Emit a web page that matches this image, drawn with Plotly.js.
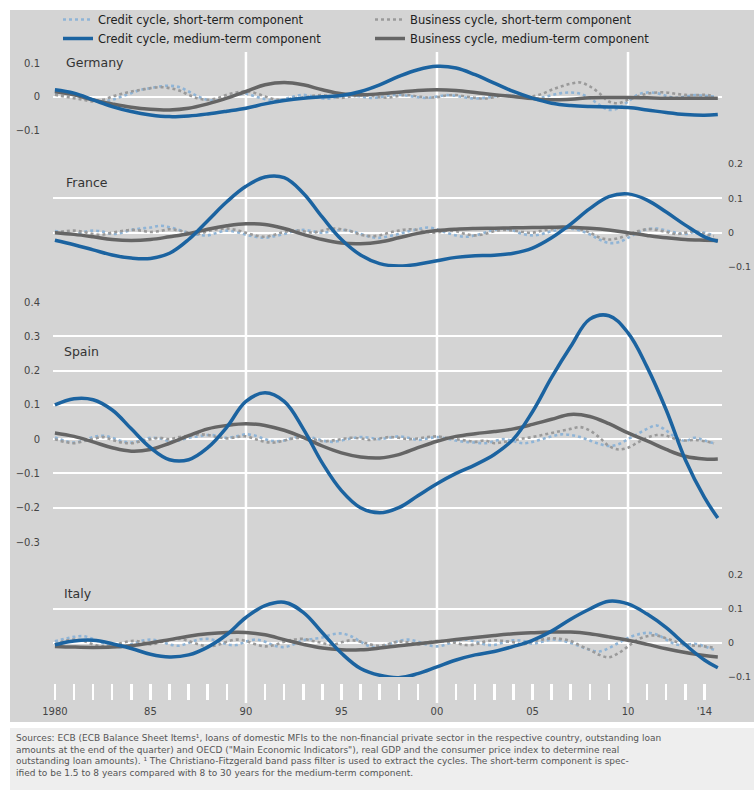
<!DOCTYPE html>
<html>
<head>
<meta charset="utf-8">
<script src="https://cdn.plot.ly/plotly-3.0.1.min.js"></script>
<style>html,body{margin:0;padding:0;background:#fff}#chart{width:754px;height:790px}</style>
</head>
<body>
<div id="chart"></div>
<script>
// ---------------- DATA ----------------
const countries = ["Germany", "France", "Spain", "Italy"];
const seriesNames = ["Credit cycle, short-term component", "Business cycle, short-term component",
                     "Credit cycle, medium-term component", "Business cycle, medium-term component"];

// medium-term components: yearly (last point 2014.7)
const yearsMed = [1980,1981,1982,1983,1984,1985,1986,1987,1988,1989,1990,1991,1992,1993,1994,1995,1996,1997,1998,1999,
                  2000,2001,2002,2003,2004,2005,2006,2007,2008,2009,2010,2011,2012,2013,2014,2014.7];

const deCreditMed = [0.02,0.01,-0.01,-0.03,-0.045,-0.055,-0.06,-0.058,-0.052,-0.044,-0.035,-0.022,-0.012,-0.005,-0.001,0.003,0.015,0.035,0.06,0.08,
                     0.09,0.085,0.065,0.04,0.015,-0.005,-0.02,-0.027,-0.03,-0.031,-0.033,-0.04,-0.048,-0.054,-0.056,-0.054];
const deBusMed = [0.015,0.005,-0.01,-0.022,-0.032,-0.038,-0.04,-0.035,-0.022,-0.005,0.015,0.035,0.042,0.035,0.02,0.008,0.005,0.008,0.013,0.018,
                  0.02,0.018,0.012,0.005,0.0,-0.006,-0.01,-0.008,-0.004,-0.003,-0.003,-0.004,-0.005,-0.005,-0.005,-0.005];
const frCreditMed = [-0.022,-0.035,-0.05,-0.065,-0.074,-0.075,-0.06,-0.02,0.035,0.09,0.135,0.162,0.16,0.115,0.045,-0.02,-0.065,-0.09,-0.097,-0.092,
                     -0.082,-0.072,-0.067,-0.066,-0.06,-0.045,-0.015,0.025,0.07,0.105,0.113,0.095,0.06,0.022,-0.012,-0.025];
const frBusMed = [0.0,-0.005,-0.012,-0.02,-0.023,-0.02,-0.012,-0.003,0.01,0.02,0.026,0.024,0.012,-0.005,-0.02,-0.03,-0.032,-0.027,-0.015,-0.002,
                  0.006,0.01,0.012,0.013,0.014,0.015,0.016,0.016,0.013,0.008,0.0,-0.008,-0.015,-0.02,-0.022,-0.023];
const esCreditMed = [0.1,0.118,0.115,0.085,0.03,-0.025,-0.06,-0.06,-0.025,0.035,0.11,0.135,0.11,0.03,-0.07,-0.15,-0.2,-0.215,-0.2,-0.165,
                     -0.13,-0.1,-0.075,-0.045,0.0,0.08,0.18,0.27,0.35,0.36,0.31,0.21,0.085,-0.06,-0.17,-0.23];
const esBusMed = [0.018,0.008,-0.008,-0.025,-0.035,-0.03,-0.012,0.01,0.03,0.04,0.045,0.04,0.026,0.005,-0.02,-0.04,-0.052,-0.055,-0.045,-0.025,
                  -0.006,0.008,0.016,0.022,0.03,0.043,0.058,0.072,0.066,0.045,0.018,-0.005,-0.03,-0.05,-0.058,-0.058];
const itCreditMed = [-0.005,0.006,0.008,-0.002,-0.016,-0.033,-0.041,-0.035,-0.012,0.025,0.075,0.11,0.12,0.09,0.03,-0.03,-0.075,-0.095,-0.102,-0.09,
                     -0.07,-0.05,-0.035,-0.025,-0.01,0.008,0.035,0.07,0.1,0.123,0.115,0.085,0.045,-0.005,-0.05,-0.073];
const itBusMed = [-0.01,-0.012,-0.013,-0.012,-0.008,0.0,0.01,0.02,0.027,0.031,0.031,0.024,0.01,-0.004,-0.015,-0.02,-0.02,-0.015,-0.008,-0.002,
                  0.004,0.01,0.016,0.022,0.027,0.03,0.032,0.032,0.027,0.018,0.008,-0.004,-0.017,-0.028,-0.037,-0.041];

// short-term components: half-yearly, 1980.0 ... 2014.5
const halfYears = [1980,1980.5,1981,1981.5,1982,1982.5,1983,1983.5,1984,1984.5,1985,1985.5,1986,1986.5,1987,1987.5,1988,1988.5,1989,1989.5,
                   1990,1990.5,1991,1991.5,1992,1992.5,1993,1993.5,1994,1994.5,1995,1995.5,1996,1996.5,1997,1997.5,1998,1998.5,1999,1999.5,
                   2000,2000.5,2001,2001.5,2002,2002.5,2003,2003.5,2004,2004.5,2005,2005.5,2006,2006.5,2007,2007.5,2008,2008.5,2009,2009.5,
                   2010,2010.5,2011,2011.5,2012,2012.5,2013,2013.5,2014,2014.5];

const deCreditShort = [0.01,0.015,0.005,-0.005,-0.01,-0.015,-0.01,0.0,0.01,0.02,0.025,0.03,0.032,0.028,0.015,0.0,-0.01,-0.012,-0.005,0.005,
                       0.008,0.0,-0.008,-0.012,-0.008,0.0,0.005,0.0,-0.006,-0.005,0.002,0.004,0.0,-0.004,-0.002,0.003,0.005,0.002,-0.002,-0.004,
                       0.0,0.004,0.002,-0.003,-0.006,-0.004,0.0,0.004,0.003,-0.002,-0.006,-0.003,0.004,0.01,0.012,0.008,-0.005,-0.025,-0.04,-0.035,
                       -0.015,0.005,0.012,0.01,0.002,-0.004,0.0,0.004,0.002,0.0];
const deBusShort = [0.005,0.0,-0.005,-0.01,-0.015,-0.01,0.0,0.008,0.015,0.02,0.025,0.028,0.025,0.018,0.005,-0.006,-0.01,-0.005,0.005,0.012,
                    0.015,0.01,0.0,-0.008,-0.01,-0.005,-0.003,0.002,0.004,0.0,-0.004,0.0,0.003,0.002,-0.002,-0.003,0.002,0.004,0.0,-0.003,
                    -0.002,0.003,0.004,0.0,-0.004,-0.006,-0.002,0.003,0.002,-0.002,0.0,0.008,0.02,0.03,0.038,0.042,0.03,0.01,-0.015,-0.02,
                    -0.01,0.0,0.008,0.012,0.012,0.008,0.005,0.004,0.005,0.002];
const frCreditShort = [0.005,0.0,-0.005,0.002,0.006,0.003,-0.004,0.0,0.008,0.012,0.015,0.02,0.016,0.008,0.0,-0.006,-0.008,0.0,0.006,0.002,
                       -0.006,-0.012,-0.015,-0.01,-0.004,0.004,0.008,0.004,0.0,0.004,0.008,0.005,-0.004,-0.012,-0.015,-0.01,-0.004,0.004,0.01,0.015,
                       0.01,0.0,-0.008,-0.012,-0.008,0.0,0.008,0.012,0.006,-0.004,-0.008,-0.004,0.004,0.01,0.012,0.006,-0.005,-0.02,-0.03,-0.028,
                       -0.015,0.0,0.01,0.012,0.006,0.0,-0.004,0.002,0.0,-0.008];
const frBusShort = [0.0,0.004,0.006,0.002,-0.004,-0.006,0.0,0.005,0.008,0.006,0.002,0.005,0.01,0.006,0.0,-0.004,0.004,0.01,0.012,0.008,
                    0.0,-0.008,-0.012,-0.006,0.002,0.006,0.004,0.0,0.006,0.012,0.01,0.004,-0.006,-0.01,-0.008,0.0,0.006,0.01,0.008,0.002,
                    0.0,0.006,0.004,-0.004,-0.008,-0.004,0.004,0.008,0.006,0.002,0.0,0.006,0.01,0.014,0.016,0.01,0.0,-0.014,-0.02,-0.016,
                    -0.006,0.004,0.01,0.008,0.002,-0.004,0.0,0.004,-0.004,-0.01];
const esCreditShort = [0.005,-0.005,-0.01,-0.004,0.006,0.01,0.004,-0.006,-0.01,-0.004,0.004,0.002,-0.006,-0.004,0.004,0.008,0.012,0.01,0.004,0.008,
                       0.014,0.01,0.0,-0.006,-0.004,0.004,0.008,0.004,-0.004,-0.008,-0.004,0.002,0.006,0.004,0.0,0.004,0.008,0.004,-0.002,0.002,
                       0.006,0.002,-0.004,-0.008,-0.01,-0.012,-0.006,0.0,-0.006,-0.012,-0.008,0.0,0.008,0.014,0.012,0.006,-0.004,-0.014,-0.02,-0.015,
                       0.0,0.015,0.03,0.04,0.025,0.005,-0.005,0.004,-0.004,-0.012];
const esBusShort = [0.0,-0.008,-0.012,-0.006,0.0,0.006,-0.002,-0.01,-0.012,-0.006,0.0,0.004,0.0,0.006,0.01,0.014,0.012,0.006,0.002,0.006,
                    0.008,0.0,-0.008,-0.01,-0.004,0.002,0.004,0.0,-0.006,-0.004,0.0,0.004,0.002,-0.002,0.002,0.006,0.004,0.0,0.002,0.006,
                    0.008,0.004,0.0,-0.004,-0.008,-0.004,-0.012,-0.008,-0.004,0.002,0.006,0.012,0.018,0.024,0.03,0.035,0.025,0.005,-0.02,-0.03,
                    -0.025,-0.01,0.004,0.012,0.01,0.0,-0.004,-0.002,-0.006,-0.012];
const itCreditShort = [0.005,0.012,0.018,0.02,0.012,0.0,-0.01,-0.012,-0.004,0.006,0.01,0.006,-0.004,-0.008,0.0,0.01,0.012,0.006,-0.004,-0.006,
                       0.004,0.01,0.004,-0.008,-0.012,-0.004,0.008,0.012,0.016,0.025,0.028,0.02,0.004,-0.01,-0.012,-0.004,0.006,0.01,0.004,-0.006,
                       -0.01,-0.004,0.006,0.01,0.004,-0.004,-0.006,0.002,0.008,0.006,-0.002,0.004,0.01,0.008,0.0,-0.01,-0.02,-0.025,-0.015,0.0,
                       0.015,0.025,0.03,0.025,0.01,-0.004,-0.006,-0.002,-0.01,-0.02];
const itBusShort = [-0.004,0.006,0.01,0.006,-0.004,-0.01,-0.008,0.0,0.006,0.004,-0.004,0.002,0.008,0.012,0.006,-0.004,-0.01,-0.006,0.004,0.01,
                    0.006,-0.004,-0.01,-0.006,0.004,0.01,0.012,0.006,0.0,-0.006,0.002,0.008,0.004,-0.004,-0.008,-0.002,0.004,0.002,-0.004,0.002,
                    0.006,0.004,0.0,-0.006,-0.004,0.004,0.008,0.006,0.002,-0.004,0.004,0.01,0.014,0.012,0.006,-0.008,-0.02,-0.035,-0.042,-0.03,
                    -0.01,0.01,0.02,0.022,0.014,0.004,-0.004,-0.008,-0.01,-0.014];

// axis ticks
const yearTicks = [1980,1981,1982,1983,1984,1985,1986,1987,1988,1989,1990,1991,1992,1993,1994,1995,1996,1997,1998,1999,
                   2000,2001,2002,2003,2004,2005,2006,2007,2008,2009,2010,2011,2012,2013,2014];
const yearTickText = ["1980","","","","","85","","","","","90","","","","","95","","","","",
                      "00","","","","","05","","","","","10","","","","'14"];
const decadeLines = [1990, 2000, 2010];
const deTicks = [-0.1, 0, 0.1];
const frTicks = [-0.1, 0, 0.1, 0.2];
const esTicks = [-0.3, -0.2, -0.1, 0, 0.1, 0.2, 0.3, 0.4];
const itTicks = [-0.1, 0, 0.1, 0.2];

const footnote = [
  "Sources: ECB (ECB Balance Sheet Items¹, loans of domestic MFIs to the non-financial private sector in the respective country, outstanding loan",
  "amounts at the end of the quarter) and OECD (\"Main Economic Indicators\"), real GDP and the consumer price index to determine real",
  "outstanding loan amounts). ¹ The Christiano-Fitzgerald band pass filter is used to extract the cycles. The short-term component is spec-",
  "ified to be 1.5 to 8 years compared with 8 to 30 years for the medium-term component."
];

// ---------------- STYLE ----------------
const W = 754, H = 790;
const px = v => v / W;
const py = v => 1 - v / H;
const C_CREDIT_SHORT = "#8fb4d6", C_BUS_SHORT = "#9a9a9a", C_CREDIT_MED = "#1b63a0", C_BUS_MED = "#656565";
const BG = "#d4d4d4";
const FONT = "DejaVu Sans, Liberation Sans, Arial, sans-serif";

const panels = [
  {name: countries[0], ax: "y",  cs: deCreditShort, bs: deBusShort, cm: deCreditMed, bm: deBusMed},
  {name: countries[1], ax: "y2", cs: frCreditShort, bs: frBusShort, cm: frCreditMed, bm: frBusMed},
  {name: countries[2], ax: "y3", cs: esCreditShort, bs: esBusShort, cm: esCreditMed, bm: esBusMed},
  {name: countries[3], ax: "y4", cs: itCreditShort, bs: itBusShort, cm: itCreditMed, bm: itBusMed}
];

const traces = [];
panels.forEach((p, i) => {
  const first = i === 0;
  traces.push({x: halfYears, y: p.cs, yaxis: p.ax, xaxis: "x", type: "scatter", mode: "lines",
    name: seriesNames[0], legendgroup: "cs", legendrank: 1, showlegend: first,
    line: {color: C_CREDIT_SHORT, width: 2.6, dash: "dot", shape: "spline", smoothing: 1}, hoverinfo: "skip"});
  traces.push({x: halfYears, y: p.bs, yaxis: p.ax, xaxis: "x", type: "scatter", mode: "lines",
    name: seriesNames[1], legendgroup: "bs", legendrank: 2, showlegend: first,
    line: {color: C_BUS_SHORT, width: 2.6, dash: "dot", shape: "spline", smoothing: 1}, hoverinfo: "skip"});
  traces.push({x: yearsMed, y: p.bm, yaxis: p.ax, xaxis: "x", type: "scatter", mode: "lines",
    name: seriesNames[3], legendgroup: "bm", legendrank: 4, showlegend: first,
    line: {color: C_BUS_MED, width: 3.5, shape: "spline", smoothing: 1.1}, hoverinfo: "skip"});
  traces.push({x: yearsMed, y: p.cm, yaxis: p.ax, xaxis: "x", type: "scatter", mode: "lines",
    name: seriesNames[2], legendgroup: "cm", legendrank: 3, showlegend: first,
    line: {color: C_CREDIT_MED, width: 3.5, shape: "spline", smoothing: 1.1}, hoverinfo: "skip"});
});

const tickFont = {family: FONT, size: 10, color: "#444"};
function yAxis(domainTopPx, domainBotPx, range, ticks, side) {
  return {
    domain: [py(domainBotPx), py(domainTopPx)], range: range, side: side, anchor: "x",
    tickvals: ticks, ticktext: ticks.map(v => v === 0 ? "0" : (v < 0 ? "\u2212" + Math.abs(v).toFixed(1) : v.toFixed(1))),
    showgrid: true, gridcolor: "#ffffff", gridwidth: 2, zeroline: false, showline: false,
    ticks: "", ticklabelstandoff: side === "left" ? 12 : 5,
    tickfont: side === "left" ? tickFont : {family: FONT, size: 9.5, color: "#444"}, fixedrange: true
  };
}

const shapes = [
  {type: "rect", xref: "paper", yref: "paper", x0: px(10), x1: 1, y0: py(722), y1: py(10), fillcolor: BG, line: {width: 0}, layer: "below"},
  {type: "rect", xref: "paper", yref: "paper", x0: px(10), x1: 1, y0: 0, y1: py(728), fillcolor: "#eeeeee", line: {width: 0}, layer: "below"}
];
decadeLines.forEach(d => shapes.push({type: "line", xref: "x", yref: "paper", x0: d, x1: d, y0: py(703), y1: py(52),
  line: {color: "#ffffff", width: 2.5}, layer: "below"}));

const labelFont = {family: FONT, size: 12.5, color: "#333"};
const annotations = [
  {xref: "paper", yref: "paper", x: px(64), y: py(63), xanchor: "left", yanchor: "middle", text: countries[0], showarrow: false, font: labelFont, bgcolor: BG, borderpad: 1},
  {xref: "paper", yref: "paper", x: px(64), y: py(182), xanchor: "left", yanchor: "middle", text: countries[1], showarrow: false, font: labelFont},
  {xref: "paper", yref: "paper", x: px(62), y: py(352), xanchor: "left", yanchor: "middle", text: countries[2], showarrow: false, font: labelFont},
  {xref: "paper", yref: "paper", x: px(62), y: py(593), xanchor: "left", yanchor: "middle", text: countries[3], showarrow: false, font: labelFont}
];
footnote.forEach((line, k) => annotations.push({xref: "paper", yref: "paper", x: px(14), y: py(738 + k * 11.5),
  xanchor: "left", yanchor: "middle", align: "left", showarrow: false, text: line,
  font: {family: FONT, size: 9, color: "#555"}}));

const layout = {
  width: W, height: H, margin: {l: 0, r: 0, t: 0, b: 0},
  paper_bgcolor: "#ffffff", plot_bgcolor: "rgba(0,0,0,0)",
  showlegend: true,
  legend: {orientation: "h", x: px(58), y: py(5), xanchor: "left", yanchor: "top", bgcolor: "rgba(0,0,0,0)",
           font: {family: FONT, size: 11.5, color: "#222"},
           itemwidth: 30, entrywidth: 267, traceorder: "normal", tracegroupgap: 0},
  xaxis: {domain: [px(53), px(722)], range: [1979.9, 2014.92], anchor: "free", position: py(683),
          tickvals: yearTicks, ticktext: yearTickText, ticks: "outside", ticklen: 16, tickwidth: 2.5, tickcolor: "#ffffff",
          ticklabelstandoff: 3,
          showgrid: false, zeroline: false, showline: false, tickfont: tickFont, fixedrange: true},
  yaxis:  yAxis(63, 130, [-0.1, 0.1], deTicks, "left"),
  yaxis2: yAxis(164, 267, [-0.1, 0.2], frTicks, "right"),
  yaxis3: yAxis(302, 542, [-0.3, 0.4], esTicks, "left"),
  yaxis4: yAxis(575, 677, [-0.1, 0.2], itTicks, "right"),
  shapes: shapes, annotations: annotations
};

Plotly.newPlot("chart", traces, layout, {staticPlot: true, displayModeBar: false});
</script>
</body>
</html>
